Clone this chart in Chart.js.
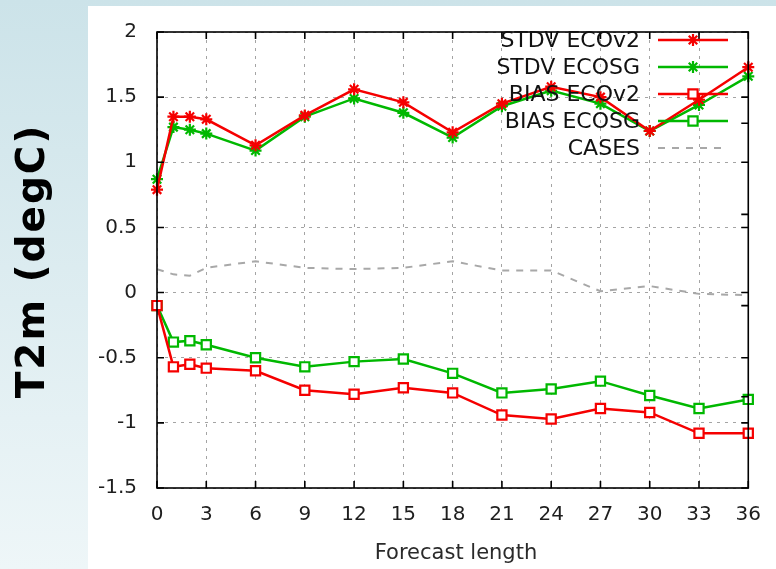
<!DOCTYPE html>
<html>
<head>
<meta charset="utf-8">
<title>T2m verification</title>
<script src="https://cdn.jsdelivr.net/npm/chart.js@4.4.1/dist/chart.umd.min.js"></script>
<style>
  html, body { margin: 0; padding: 0; background: #fff; }
  #frame { width: 776px; height: 569px; }
</style>
</head>
<body>
<div id="frame"><canvas id="t2mChart" width="776" height="569"></canvas></div>
<script>
// forecast lead time (hours)
const leadHours = [0, 1, 2, 3, 6, 9, 12, 15, 18, 21, 24, 27, 30, 33, 36];

// T2m scores (degC)
const stdvEcov2 = [0.79, 1.35, 1.35, 1.33, 1.13, 1.36, 1.56, 1.46, 1.23, 1.45, 1.58, 1.50, 1.24, 1.48, 1.73];
const stdvEcosg = [0.87, 1.27, 1.25, 1.22, 1.09, 1.35, 1.49, 1.38, 1.19, 1.43, 1.55, 1.45, 1.24, 1.44, 1.66];
const biasEcov2 = [-0.10, -0.57, -0.55, -0.58, -0.60, -0.75, -0.78, -0.73, -0.77, -0.94, -0.97, -0.89, -0.92, -1.08, -1.08];
const biasEcosg = [-0.10, -0.38, -0.37, -0.40, -0.50, -0.57, -0.53, -0.51, -0.62, -0.77, -0.74, -0.68, -0.79, -0.89, -0.82];
const cases     = [0.18, 0.14, 0.13, 0.19, 0.24, 0.19, 0.18, 0.19, 0.24, 0.17, 0.17, 0.01, 0.05, -0.01, -0.02];

const seriesLabels = ['STDV ECOv2', 'STDV ECOSG', 'BIAS ECOv2', 'BIAS ECOSG', 'CASES'];
const y2TickValues = [0, 1, 2, 3, 4, 5];

const RED = '#f50000';
const GREEN = '#00b800';
const GREY = '#a8a8a8';

const toPoints = (vals) => vals.map((v, i) => ({ x: leadHours[i], y: v }));

const lineSet = (label, vals, color, marker) => ({
  label: label,
  data: toPoints(vals),
  borderColor: color,
  borderWidth: 2.5,
  pointStyle: marker,
  pointRadius: marker === 'rect' ? 6.5 : 6,
  pointBorderColor: color,
  pointBackgroundColor: '#fff',
  pointBorderWidth: 2.2,
  tension: 0,
  fill: false,
  clip: false
});

// gnuplot style marker, used for the key samples
function drawMarker(ctx, style, x, y, color) {
  ctx.save();
  ctx.strokeStyle = color;
  ctx.lineWidth = 2.2;
  ctx.beginPath();
  if (style === 'rect') {
    ctx.fillStyle = '#fff';
    ctx.rect(x - 4.6, y - 4.6, 9.2, 9.2);
    ctx.fill();
  } else {
    const r = 6;
    const d = r * Math.SQRT1_2;
    ctx.moveTo(x - r, y); ctx.lineTo(x + r, y);
    ctx.moveTo(x, y - r); ctx.lineTo(x, y + r);
    ctx.moveTo(x - d, y - d); ctx.lineTo(x + d, y + d);
    ctx.moveTo(x - d, y + d); ctx.lineTo(x + d, y - d);
  }
  ctx.stroke();
  ctx.restore();
}

const backdrop = {
  id: 'backdrop',
  beforeDraw(chart) {
    const ctx = chart.ctx;
    ctx.save();
    const g = ctx.createLinearGradient(0, 0, 0, chart.height);
    g.addColorStop(0, '#cce3e9');
    g.addColorStop(1, '#eef6f8');
    ctx.fillStyle = g;
    ctx.fillRect(0, 0, chart.width, chart.height);
    ctx.fillStyle = '#fff';
    ctx.fillRect(88, 6, chart.width - 88, chart.height - 6);
    ctx.restore();
  }
};

// border with inward ticks (mirrored on top/right) plus axis titles and key
const gnuFrame = {
  id: 'gnuFrame',
  afterDraw(chart) {
    const ctx = chart.ctx;
    const a = chart.chartArea;
    const xs = chart.scales.x, ys = chart.scales.y, y2 = chart.scales.y2;
    const tl = 7;
    ctx.save();
    ctx.strokeStyle = '#000';
    ctx.lineWidth = 1.6;
    ctx.strokeRect(a.left, a.top, a.right - a.left, a.bottom - a.top);
    ctx.beginPath();
    xs.ticks.forEach(t => {
      const px = xs.getPixelForValue(t.value);
      ctx.moveTo(px, a.bottom); ctx.lineTo(px, a.bottom - tl);
      ctx.moveTo(px, a.top); ctx.lineTo(px, a.top + tl);
    });
    ys.ticks.forEach(t => {
      const py = ys.getPixelForValue(t.value);
      ctx.moveTo(a.left, py); ctx.lineTo(a.left + tl, py);
      ctx.moveTo(a.right, py); ctx.lineTo(a.right - tl, py);
    });
    y2TickValues.forEach(v => {
      const py = y2.getPixelForValue(v);
      ctx.moveTo(a.right, py); ctx.lineTo(a.right - tl, py);
    });
    ctx.stroke();

    // axis titles
    ctx.fillStyle = '#2a2a2a';
    ctx.font = '21px "DejaVu Sans"';
    ctx.textAlign = 'center';
    ctx.textBaseline = 'alphabetic';
    ctx.fillText('Forecast length', 456, 559);

    ctx.save();
    ctx.translate(44, 261);
    ctx.rotate(-Math.PI / 2);
    ctx.fillStyle = '#000';
    ctx.font = 'bold 39px "DejaVu Sans"';
    ctx.letterSpacing = '2px';
    ctx.fillText('T2m (degC)', 0, 0);
    ctx.restore();

    // key
    ctx.font = '22px "DejaVu Sans"';
    ctx.textAlign = 'right';
    ctx.textBaseline = 'middle';
    chart.data.datasets.forEach((ds, i) => {
      const ky = 40 + i * 27;
      ctx.fillStyle = '#111';
      ctx.fillText(ds.label, 640, ky + 1);
      ctx.save();
      ctx.strokeStyle = ds.borderColor;
      ctx.lineWidth = ds.borderWidth;
      ctx.setLineDash(ds.borderDash || []);
      ctx.beginPath();
      ctx.moveTo(658, ky); ctx.lineTo(728, ky);
      ctx.stroke();
      ctx.restore();
      if (ds.pointRadius > 0) drawMarker(ctx, ds.pointStyle, 693, ky, ds.borderColor);
    });
    ctx.restore();
  }
};

const datasets = [
  lineSet(seriesLabels[0], stdvEcov2, RED, 'star'),
  lineSet(seriesLabels[1], stdvEcosg, GREEN, 'star'),
  lineSet(seriesLabels[2], biasEcov2, RED, 'rect'),
  lineSet(seriesLabels[3], biasEcosg, GREEN, 'rect'),
  {
    label: seriesLabels[4],
    data: toPoints(cases),
    borderColor: GREY,
    borderWidth: 2,
    borderDash: [7, 7],
    pointRadius: 0,
    tension: 0,
    fill: false
  }
];

new Chart(document.getElementById('t2mChart'), {
  type: 'line',
  data: { datasets: datasets },
  options: {
    responsive: false,
    animation: false,
    events: [],
    layout: { padding: { left: 0, top: 22, right: 16, bottom: 0 } },
    plugins: { legend: { display: false }, tooltip: { enabled: false } },
    scales: {
      x: {
        type: 'linear',
        min: 0,
        max: 36,
        afterFit: (s) => { s.height = 81; },
        ticks: {
          stepSize: 3,
          padding: 15,
          color: '#1e1e1e',
          font: { family: 'DejaVu Sans', size: 20 },
          maxRotation: 0
        },
        grid: { color: '#a4a4a4', lineWidth: 1, drawTicks: false },
        border: { display: false, dash: [3, 5] }
      },
      y: {
        min: -1.5,
        max: 2,
        afterFit: (s) => { s.width = 157; },
        ticks: {
          stepSize: 0.5,
          padding: 20,
          color: '#1e1e1e',
          font: { family: 'DejaVu Sans', size: 20 },
          callback: (v) => String(v)
        },
        grid: { color: '#a4a4a4', lineWidth: 1, drawTicks: false },
        border: { display: false, dash: [3, 5] }
      },
      y2: {
        type: 'linear',
        position: 'right',
        display: false,
        min: 0,
        max: 5
      }
    }
  },
  plugins: [backdrop, gnuFrame]
});
</script>
</body>
</html>
